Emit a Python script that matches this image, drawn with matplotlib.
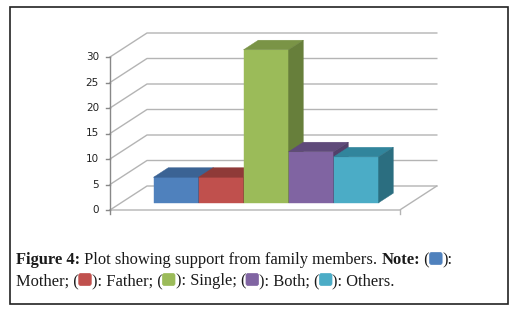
import matplotlib
matplotlib.use("Agg")
import matplotlib.pyplot as plt
from matplotlib.patches import Polygon, Rectangle, FancyBboxPatch
from matplotlib.transforms import IdentityTransform

# data
groups = ["Mother", "Father", "Single", "Both", "Others"]
values = [5, 5, 30, 10, 9]
ticks = [0, 5, 10, 15, 20, 25, 30]
front = ["#4F81BD", "#C0504D", "#9BBB59", "#8064A2", "#4BACC6"]
top = ["#3B6394", "#8F3A38", "#7A9446", "#5F4A7A", "#31859C"]
side = ["#335785", "#7E3230", "#677F3B", "#52406A", "#2B6E80"]

W, H = 516, 311
fig = plt.figure(figsize=(W / 100, H / 100), dpi=100)
ax = fig.add_axes([0, 0, 1, 1])
ax.axis("off")

# 1 category = 45 px, 1 value unit = 5.1 px
PX, PY = 45.0, 5.1
x_left, x_right = -1.22, 5.22
ax.set_xlim(x_left - 110 / PX, x_left - 110 / PX + W / PX)
ax.set_ylim(-101 / PY, -101 / PY + H / PY)

DX, DY = 37 / PX, 24 / PY      # full depth of the box
d0, d1 = 0.3, 0.7              # bar depth range


def P(x, y, d):
    return (x + d * DX, y + d * DY)


grid = "#B4B4B4"
for t in ticks:
    ax.plot([x_left, x_left + DX, x_right + DX], [t, t + DY, t + DY],
            color=grid, lw=1, zorder=1)
    ax.plot([x_left - 4 / PX, x_left], [t, t], color="#888888", lw=1, zorder=2)
    ax.text(x_left - 11 / PX, t, str(t), ha="right", va="center",
            fontsize=7.5, color="#222222")
ax.plot([x_left, x_left], [-4 / PY, ticks[-1]], color="#888888", lw=1, zorder=2)
ax.plot([x_left, x_right, x_right + DX], [0, 0, DY], color=grid, lw=1, zorder=1)
ax.plot([x_right, x_right], [0, -4 / PY], color=grid, lw=1, zorder=1)

for i, v in enumerate(values):
    L, R = i - 0.5, i + 0.5
    faces = [
        ([P(L, 0, d0), P(R, 0, d0), P(R, v, d0), P(L, v, d0)], front[i]),
        ([P(L, v, d0), P(R, v, d0), P(R, v, d1), P(L, v, d1)], top[i]),
        ([P(R, 0, d0), P(R, 0, d1), P(R, v, d1), P(R, v, d0)], side[i]),
    ]
    for pts, c in faces:
        ax.add_patch(Polygon(pts, closed=True, facecolor=c, edgecolor=c,
                             lw=0.3, zorder=3 + i))

# border
fig.add_artist(Rectangle((10 / W, 1 - 304 / H), 498 / W, 297 / H,
                         transform=fig.transFigure, fill=False,
                         edgecolor="#222222", lw=1.2))

# caption
renderer = fig.canvas.get_renderer()
fam = "Liberation Serif"
fs = 11.9


def caption_line(segments, x, y):
    for kind, val in segments:
        if kind == "box":
            bw, bh = 13, 12
            fig.add_artist(FancyBboxPatch((x, H - y - 0.5), bw - 0.5, bh,
                                          boxstyle="round,pad=0,rounding_size=2",
                                          transform=IdentityTransform(),
                                          facecolor=val, edgecolor=val, lw=0.5))
            x += bw
        else:
            t = fig.text(x / W, 1 - y / H, val, fontsize=fs, family=fam,
                         weight="bold" if kind == "b" else "normal",
                         color="#1a1a1a", va="baseline", ha="left")
            x += t.get_window_extent(renderer).width


caption_line([("b", "Figure 4:"), ("t", " Plot showing support from family members. "),
              ("b", "Note:"), ("t", " ("), ("box", front[0]), ("t", "):")], 16, 264)
caption_line([("t", "Mother; ("), ("box", front[1]), ("t", "): Father; ("),
              ("box", front[2]), ("t", "): Single; ("), ("box", front[3]),
              ("t", "): Both; ("), ("box", front[4]), ("t", "): Others.")], 16, 285)

fig.savefig("out.png", dpi=100)
